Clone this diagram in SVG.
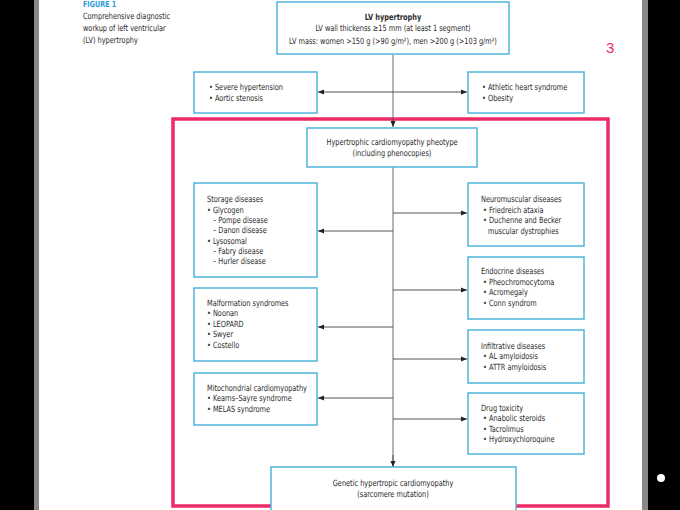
<svg xmlns="http://www.w3.org/2000/svg" width="680" height="510" viewBox="0 0 680 510">
<defs>
<marker id="ah" viewBox="0 0 6 6" refX="6" refY="3" markerWidth="6" markerHeight="6" markerUnits="userSpaceOnUse" orient="auto-start-reverse">
<path d="M0,0.5 L6,3 L0,5.5 Z" fill="#222"/>
</marker>
</defs>
<style>
.t{font-family:"DejaVu Sans Condensed","Liberation Sans",sans-serif;font-size:8.6px;fill:#2b2b2b;transform-box:fill-box;transform-origin:0% 50%;transform:scaleX(0.85)}
.c{text-anchor:middle;transform-origin:50% 50%}
.b{font-weight:bold}
.box{fill:#fff;stroke:#4fb5dc;stroke-width:1.5}
.ln{stroke:#6a6a6a;stroke-width:1;fill:none}
.ar{stroke:#555;stroke-width:1;fill:none;marker-end:url(#ah)}
</style>
<rect x="0" y="0" width="680" height="510" fill="#fff"/>
<rect x="0" y="0" width="34" height="510" fill="#000"/>
<rect x="34" y="0" width="5" height="510" fill="#888"/>
<rect x="642" y="0" width="6" height="510" fill="#888"/>
<rect x="648" y="0" width="32" height="510" fill="#000"/>
<circle cx="661" cy="478" r="4" fill="#fff"/>

<g id="caption">
<text class="t b" x="83" y="7" style="fill:#2a9ad6;font-size:8.4px">FIGURE 1</text>
<text class="t" x="83" y="19">Comprehensive diagnostic</text>
<text class="t" x="83" y="31">workup of left ventricular</text>
<text class="t" x="83" y="43">(LV) hypertrophy</text>
</g>
<text x="606" y="53" style="font-family:'Liberation Sans',sans-serif;font-size:15px;fill:#ee2a6a">3<tspan style="font-size:8px;fill:#bbb">.</tspan></text>

<rect x="173" y="119" width="435" height="387" fill="none" stroke="#ee2a67" stroke-width="3.5"/>

<g id="connectors">
<line class="ln" x1="393" y1="55" x2="393" y2="122"/>
<line class="ar" x1="393" y1="118" x2="393" y2="127"/>
<line class="ln" x1="393" y1="167" x2="393" y2="462"/>
<line class="ar" x1="393" y1="455" x2="393" y2="467"/>
<line class="ar" x1="393" y1="92" x2="318" y2="92"/>
<line class="ar" x1="393" y1="92" x2="467" y2="92"/>
<line class="ar" x1="393" y1="231" x2="318" y2="231"/>
<line class="ar" x1="393" y1="327" x2="318" y2="327"/>
<line class="ar" x1="393" y1="398" x2="318" y2="398"/>
<line class="ar" x1="393" y1="213" x2="467" y2="213"/>
<line class="ar" x1="393" y1="290" x2="467" y2="290"/>
<line class="ar" x1="393" y1="359" x2="467" y2="359"/>
<line class="ar" x1="393" y1="419" x2="467" y2="419"/>
</g>

<g id="lv-hypertrophy">
<rect class="box" x="277" y="2" width="232" height="52"/>
<text class="t c b" x="393" y="20">LV hypertrophy</text>
<text class="t c" x="393" y="31">LV wall thickenss ≥15 mm (at least 1 segment)</text>
<text class="t c" x="393" y="44">LV mass: women &gt;150 g (&gt;90 g/m²), men &gt;200 g (&gt;103 g/m²)</text>
</g>

<g id="hypertension">
<rect class="box" x="194" y="72" width="123" height="41"/>
<text class="t" x="209" y="90">• Severe hypertension</text>
<text class="t" x="209" y="101">• Aortic stenosis</text>
</g>

<g id="athletic">
<rect class="box" x="468" y="72" width="116" height="41"/>
<text class="t" x="482" y="90">• Athletic heart syndrome</text>
<text class="t" x="482" y="101">• Obesity</text>
</g>

<g id="hcm-phenotype">
<rect class="box" x="307" y="128" width="170" height="39"/>
<text class="t c" x="392" y="145">Hypertrophic cardiomyopathy pheotype</text>
<text class="t c" x="392" y="156">(including phenocopies)</text>
</g>

<g id="storage">
<rect class="box" x="194" y="183" width="123" height="94"/>
<text class="t" x="207" y="202">Storage diseases</text>
<text class="t" x="207" y="213">• Glycogen</text>
<text class="t" x="213" y="223">– Pompe disease</text>
<text class="t" x="213" y="233">– Danon disease</text>
<text class="t" x="207" y="244">• Lysosomal</text>
<text class="t" x="213" y="254">– Fabry disease</text>
<text class="t" x="213" y="264">– Hurler disease</text>
</g>

<g id="malformation">
<rect class="box" x="194" y="288" width="123" height="73"/>
<text class="t" x="207" y="306">Malformation syndromes</text>
<text class="t" x="207" y="316">• Noonan</text>
<text class="t" x="207" y="327">• LEOPARD</text>
<text class="t" x="207" y="337">• Swyer</text>
<text class="t" x="207" y="348">• Costello</text>
</g>

<g id="mitochondrial">
<rect class="box" x="194" y="373" width="123" height="52"/>
<text class="t" x="207" y="391">Mitochondrial cardiomyopathy</text>
<text class="t" x="207" y="401">• Kearns–Sayre syndrome</text>
<text class="t" x="207" y="412">• MELAS syndrome</text>
</g>

<g id="neuromuscular">
<rect class="box" x="468" y="183" width="116" height="63"/>
<text class="t" x="481" y="202">Neuromuscular diseases</text>
<text class="t" x="483" y="213">• Friedreich ataxia</text>
<text class="t" x="483" y="223">• Duchenne and Becker</text>
<text class="t" x="488" y="234">muscular dystrophies</text>
</g>

<g id="endocrine">
<rect class="box" x="468" y="257" width="116" height="62"/>
<text class="t" x="481" y="274">Endocrine diseases</text>
<text class="t" x="483" y="285">• Pheochromocytoma</text>
<text class="t" x="483" y="295">• Acromegaly</text>
<text class="t" x="483" y="306">• Conn syndrom</text>
</g>

<g id="infiltrative">
<rect class="box" x="468" y="330" width="116" height="53"/>
<text class="t" x="481" y="349">Infiltrative diseases</text>
<text class="t" x="483" y="359">• AL amyloidosis</text>
<text class="t" x="483" y="370">• ATTR amyloidosis</text>
</g>

<g id="drug-toxicity">
<rect class="box" x="468" y="393" width="116" height="61"/>
<text class="t" x="481" y="411">Drug toxicity</text>
<text class="t" x="483" y="421">• Anabolic steroids</text>
<text class="t" x="483" y="432">• Tacrolimus</text>
<text class="t" x="483" y="442">• Hydroxychloroquine</text>
</g>

<g id="genetic-hcm">
<rect class="box" x="271" y="467" width="245" height="48"/>
<text class="t c" x="393" y="486">Genetic hypertropic cardiomyopathy</text>
<text class="t c" x="393" y="497">(sarcomere mutation)</text>
</g>
</svg>
